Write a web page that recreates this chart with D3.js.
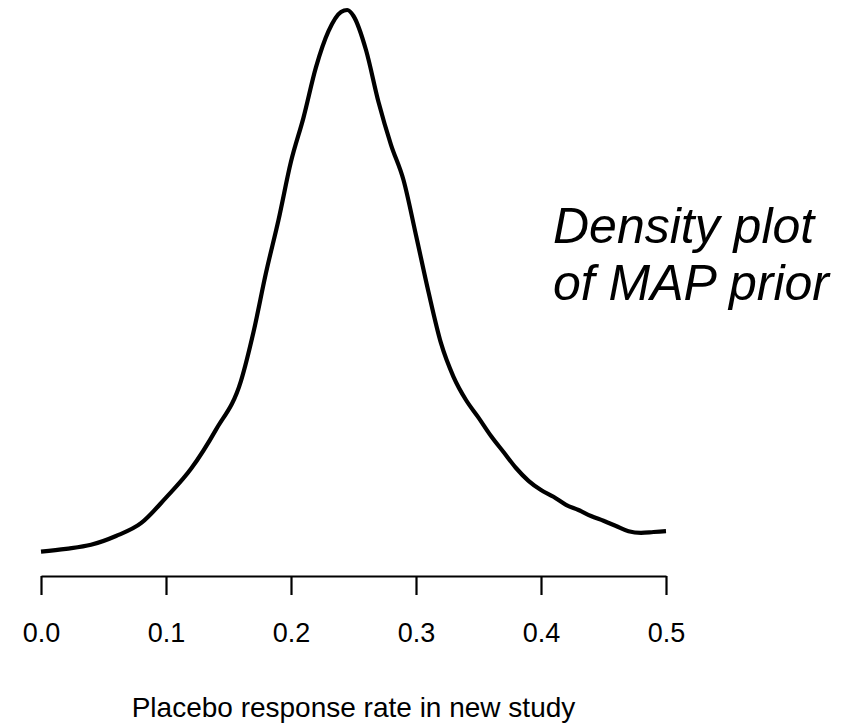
<!DOCTYPE html>
<html>
<head>
<meta charset="utf-8">
<script src="https://cdn.jsdelivr.net/npm/d3@7"></script>
<style>
  html, body { margin: 0; padding: 0; background: #ffffff; }
  svg { display: block; }
</style>
</head>
<body>
<svg id="chart" width="864" height="724"></svg>
<script>
// Placebo response rate grid (x) and MAP prior density (y)
const rates = [0.00,0.02,0.04,0.06,0.08,0.10,0.12,0.14,0.16,0.17,0.18,0.19,0.20,0.21,0.22,0.23,0.24,0.245,0.25,0.26,0.27,0.28,0.29,0.30,0.31,0.32,0.33,0.34,0.35,0.36,0.37,0.38,0.39,0.40,0.41,0.42,0.43,0.44,0.45,0.46,0.47,0.48,0.49,0.50];
const density = [0.105,0.14,0.19,0.30,0.46,0.78,1.14,1.63,2.24,2.85,3.59,4.25,4.98,5.53,6.16,6.61,6.85,6.875,6.80,6.375,5.725,5.19,4.75,4.06,3.35,2.71,2.29,2.00,1.78,1.55,1.35,1.15,0.99,0.875,0.79,0.69,0.625,0.55,0.49,0.425,0.36,0.34,0.35,0.36];
const tickValues = [0.0, 0.1, 0.2, 0.3, 0.4, 0.5];
const tickLabels = ["0.0", "0.1", "0.2", "0.3", "0.4", "0.5"];
const xTitle = "Placebo response rate in new study";
const annotation = ["Density plot", "of MAP prior"];

const svg = d3.select("#chart");
const x = d3.scaleLinear().domain([0, 0.5]).range([41, 666]);
const y = d3.scaleLinear().domain([0, 7]).range([560, 0]);

const pts = rates.map((r, i) => [r, density[i]]);
const line = d3.line()
  .x(d => x(d[0]))
  .y(d => y(d[1]))
  .curve(d3.curveMonotoneX);

svg.append("path")
  .datum(pts)
  .attr("d", line)
  .attr("fill", "none")
  .attr("stroke", "#000")
  .attr("stroke-width", 4.2)
  .attr("stroke-linejoin", "round")
  .attr("stroke-linecap", "butt");

// x axis
const axis = d3.axisBottom(x)
  .tickValues(tickValues)
  .tickFormat((d, i) => tickLabels[i])
  .tickSize(19)
  .tickSizeOuter(0)
  .tickPadding(28);

const gAxis = svg.append("g")
  .attr("transform", "translate(0,576)")
  .call(axis);
gAxis.select(".domain").attr("stroke", "#000").attr("stroke-width", 2.2);
gAxis.selectAll(".tick line").attr("stroke", "#000").attr("stroke-width", 2.2);
gAxis.selectAll(".tick text")
  .attr("fill", "#000")
  .style("font-family", "'Liberation Sans', Arial, sans-serif")
  .style("font-size", "27px");

svg.append("text")
  .attr("x", (x(0) + x(0.5)) / 2)
  .attr("y", 717)
  .attr("text-anchor", "middle")
  .style("font-family", "'Liberation Sans', Arial, sans-serif")
  .style("font-size", "28px")
  .attr("fill", "#000")
  .text(xTitle);

const ann = svg.append("text")
  .style("font-family", "'Liberation Sans', Arial, sans-serif")
  .style("font-size", "50px")
  .style("font-style", "italic")
  .attr("fill", "#000");
annotation.forEach((t, i) => {
  ann.append("tspan")
    .attr("x", 553)
    .attr("y", 243 + i * 57)
    .text(t);
});
</script>
</body>
</html>
